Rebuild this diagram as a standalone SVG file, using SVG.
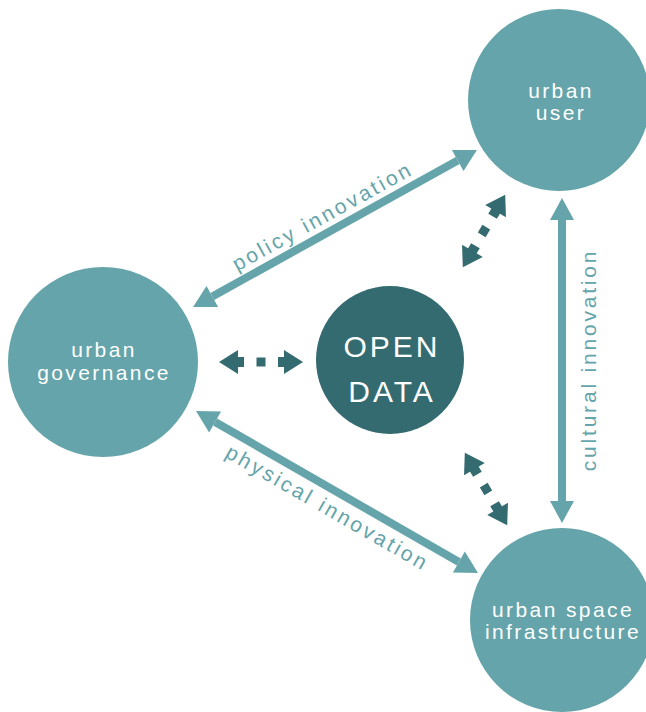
<svg xmlns="http://www.w3.org/2000/svg" width="646" height="712" viewBox="0 0 646 712">
<style>
.node{fill:#64a4aa}
.core{fill:#346b71}
.nt{font-family:"Liberation Sans",Arial,sans-serif;font-size:21px;fill:#ffffff;text-anchor:middle;letter-spacing:2.4px}
.ct{font-family:"Liberation Sans",Arial,sans-serif;font-size:30px;fill:#ffffff;text-anchor:middle;letter-spacing:3px}
.lt{font-family:"Liberation Sans",Arial,sans-serif;font-size:21px;fill:#64a4aa;text-anchor:middle;letter-spacing:2.8px}
.conn{stroke:#64a4aa;stroke-width:8;fill:none}
.dash{fill:#346b71}
</style>
<defs>
<marker id="ah" markerUnits="userSpaceOnUse" markerWidth="24" markerHeight="24" refX="0" refY="12" orient="auto-start-reverse" overflow="visible">
<path d="M0,0 L22,12 L0,24 z" fill="#64a4aa"/>
</marker>
<g id="dd">
<polygon points="-42,0 -23,-12 -23,12"/>
<rect x="-25" y="-5" width="8" height="10"/>
<rect x="-4.5" y="-4.5" width="9" height="9"/>
<rect x="17" y="-5" width="8" height="10"/>
<polygon points="42,0 23,-12 23,12"/>
</g>
</defs>
<g id="connectors">
<line class="conn" x1="212.3" y1="296.4" x2="457.7" y2="160.6" marker-start="url(#ah)" marker-end="url(#ah)"/>
<line class="conn" x1="215.1" y1="422" x2="458.9" y2="562" marker-start="url(#ah)" marker-end="url(#ah)"/>
<line class="conn" x1="562" y1="220" x2="562" y2="501" marker-start="url(#ah)" marker-end="url(#ah)"/>
<use href="#dd" class="dash" transform="translate(261,362)"/>
<use href="#dd" class="dash" transform="translate(484,231) rotate(-59.7)"/>
<use href="#dd" class="dash" transform="translate(486,489) rotate(59.7)"/>
<text class="lt" x="326" y="222.5" transform="rotate(-28.9 326 222.5)">policy innovation</text>
<text class="lt" x="324" y="514" transform="rotate(29.9 324 514)">physical innovation</text>
<text class="lt" x="596" y="360" transform="rotate(-90 596 360)">cultural innovation</text>
</g>
<g id="urban-user">
<circle class="node" cx="559" cy="100" r="91"/>
<text class="nt" x="561" y="98">urban</text>
<text class="nt" x="561" y="120">user</text>
</g>
<g id="urban-governance">
<circle class="node" cx="103" cy="362" r="95"/>
<text class="nt" x="104" y="357">urban</text>
<text class="nt" x="104" y="380">governance</text>
</g>
<g id="open-data">
<circle class="core" cx="390" cy="360" r="74"/>
<text class="ct" x="392" y="357">OPEN</text>
<text class="ct" x="392" y="402">DATA</text>
</g>
<g id="urban-space-infrastructure">
<circle class="node" cx="562" cy="620" r="92"/>
<text class="nt" x="563" y="617">urban space</text>
<text class="nt" x="563" y="639">infrastructure</text>
</g>
</svg>
